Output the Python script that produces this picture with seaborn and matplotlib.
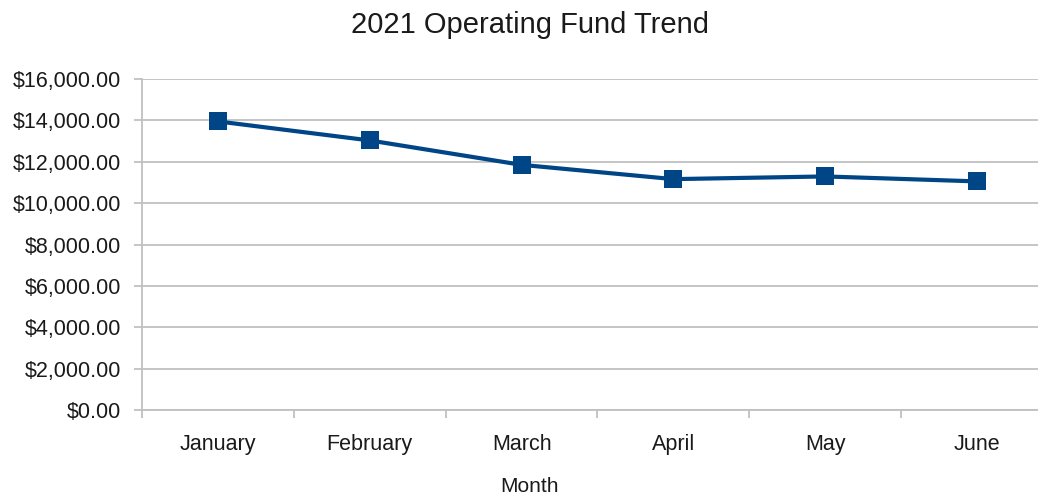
import matplotlib
matplotlib.use("Agg")
import matplotlib.pyplot as plt
from matplotlib.ticker import FuncFormatter, FixedLocator
import seaborn as sns
import pandas as pd

# values
months = ["January", "February", "March", "April", "May", "June"]
funds = [13950, 13030, 11850, 11160, 11290, 11050]

df = pd.DataFrame({"Month": months, "Fund": funds})

sns.set_style("white")
plt.rcParams['font.family'] = ['Liberation Sans', 'DejaVu Sans']

fig = plt.figure(figsize=(10.38, 4.96), dpi=100)
ax = fig.add_axes([142 / 1038, 1 - 410 / 496, (1053 - 142) / 1038, (410 - 79) / 496])

sns.lineplot(data=df, x="Month", y="Fund", ax=ax, color="#004586", linewidth=3,
             marker="s", markersize=13, markeredgewidth=0, sort=False)

ax.set_ylim(0, 16000)
ax.set_xlim(-0.5, 5.5)
ax.yaxis.set_major_locator(FixedLocator(range(0, 16001, 2000)))
ax.yaxis.set_major_formatter(FuncFormatter(lambda v, p: f"${v:,.2f}"))
ax.grid(axis="y", color="#c0c0c0", linewidth=1.3)

# category boundaries as small ticks
ax.xaxis.set_minor_locator(FixedLocator([i - 0.5 for i in range(len(months) + 1)]))
ax.tick_params(axis="x", which="major", length=0, pad=17, labelsize=15.5, labelcolor="#1a1a1a")
ax.tick_params(axis="x", which="minor", length=6, width=1.3, color="#c0c0c0", direction="out", bottom=True)
ax.tick_params(axis="y", which="major", length=6, width=1.3, color="#c0c0c0", pad=9,
               labelsize=15.5, labelcolor="#1a1a1a", left=True)

for side in ["top", "right"]:
    ax.spines[side].set_visible(False)
for side in ["left", "bottom"]:
    ax.spines[side].set_color("#c0c0c0")
    ax.spines[side].set_linewidth(1.3)

ax.set_xlabel("")
ax.set_ylabel("")
fig.text(530 / 1038, 1 - 25 / 496, "2021 Operating Fund Trend", ha="center", va="center",
         fontsize=21, color="#1a1a1a")
fig.text(530 / 1038, 1 - 486 / 496, "Month", ha="center", va="center",
         fontsize=15, color="#1a1a1a")

fig.savefig("out.png", dpi=100)
